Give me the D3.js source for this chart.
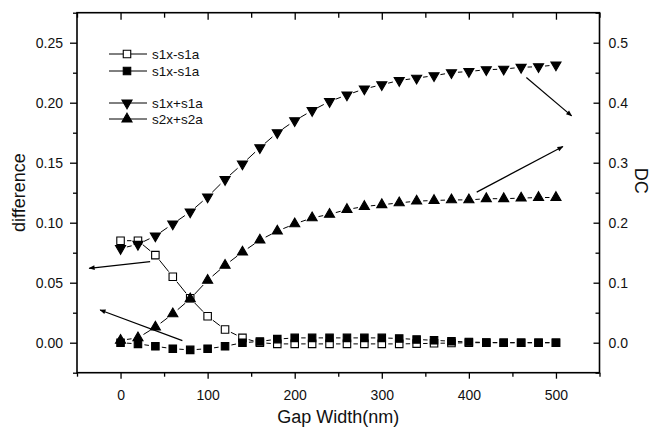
<!DOCTYPE html>
<html>
<head>
<meta charset="utf-8">
<script src="https://cdn.jsdelivr.net/npm/d3@7"></script>
<style>
  body { margin: 0; background: #fff; }
  svg text { font-family: "Liberation Sans", Arial, sans-serif; fill: #111; }
</style>
</head>
<body>
<div id="chart"></div>
<script>
// gap width (nm)
const gapWidth = [0, 20, 40, 60, 80, 100, 120, 140, 160, 180, 200, 220, 240,
                  260, 280, 300, 320, 340, 360, 380, 400, 420, 440, 460, 480, 500];

// left axis (difference)
const diffOpen = [0.085, 0.085, 0.073, 0.055, 0.037, 0.022, 0.011, 0.004, 0.000, -0.001,
                  -0.001, -0.001, -0.001, -0.001, -0.001, -0.001, -0.001, -0.0008, -0.0005, -0.0003,
                  0.000, 0.000, 0.000, 0.000, 0.000, 0.000];
const diffFilled = [0.000, -0.001, -0.003, -0.005, -0.006, -0.005, -0.003, 0.000, 0.001, 0.003,
                    0.004, 0.004, 0.004, 0.004, 0.004, 0.004, 0.0035, 0.0027, 0.002, 0.0012,
                    0.0006, 0.0002, 0.000, 0.000, 0.000, 0.000];

// right axis (DC)
const dcS1 = [0.157, 0.164, 0.178, 0.198, 0.218, 0.243, 0.272, 0.298, 0.325, 0.350,
              0.370, 0.387, 0.402, 0.413, 0.423, 0.430, 0.437, 0.441, 0.445, 0.450,
              0.452, 0.455, 0.456, 0.459, 0.460, 0.463];
const dcS2 = [0.004, 0.008, 0.026, 0.048, 0.073, 0.104, 0.129, 0.151, 0.171, 0.186,
              0.198, 0.208, 0.214, 0.222, 0.227, 0.230, 0.233, 0.236, 0.237, 0.238,
              0.238, 0.240, 0.240, 0.241, 0.242, 0.242];

const xTicks = [0, 100, 200, 300, 400, 500];
const xMinor = [-50, 50, 150, 250, 350, 450, 550];
const leftTicks = [0.00, 0.05, 0.10, 0.15, 0.20, 0.25];
const leftMinor = [-0.025, 0.025, 0.075, 0.125, 0.175, 0.225, 0.275];
const rightTicks = [0.0, 0.1, 0.2, 0.3, 0.4, 0.5];
const rightMinor = [-0.05, 0.05, 0.15, 0.25, 0.35, 0.45, 0.55];

// arrows: [x1, y1, x2, y2, axis]
const arrows = [
  [34, 0.0675, -36, 0.062, 'left'],
  [71, 0.0017, -23.5, 0.0273, 'left'],
  [466, 0.442, 518, 0.378, 'right'],
  [409, 0.251, 508, 0.327, 'right']
];

const series = [
  { name: 's1x-s1a', values: diffOpen, axis: 'left', symbol: 'square', fill: '#fff' },
  { name: 's1x-s1a', values: diffFilled, axis: 'left', symbol: 'square', fill: '#000' },
  { name: 's1x+s1a', values: dcS1, axis: 'right', symbol: 'down', fill: '#000' },
  { name: 's2x+s2a', values: dcS2, axis: 'right', symbol: 'up', fill: '#000' }
];

const width = 653, height = 431;
const margin = { left: 77, right: 53.5, top: 12.7, bottom: 58.3 };
const plotW = width - margin.left - margin.right;
const plotH = height - margin.top - margin.bottom;

const svg = d3.select('#chart').append('svg')
  .attr('width', width).attr('height', height);

const x = d3.scaleLinear().domain([-50, 550]).range([margin.left, margin.left + plotW]);
const yL = d3.scaleLinear().domain([-0.025, 0.275]).range([margin.top + plotH, margin.top]);
const yR = d3.scaleLinear().domain([-0.05, 0.55]).range([margin.top + plotH, margin.top]);

const fontSize = 14;

function styleAxis(g) {
  g.select('.domain').remove();
  g.selectAll('line').attr('stroke', '#000').attr('stroke-width', 1.3);
  g.selectAll('text').style('font-size', fontSize + 'px').attr('fill', '#111');
}

// bottom
svg.append('g').attr('transform', `translate(0,${margin.top + plotH})`)
  .call(d3.axisBottom(x).tickValues(xTicks).tickSize(6).tickPadding(11).tickFormat(d3.format('d')))
  .call(styleAxis);
svg.append('g').attr('transform', `translate(0,${margin.top + plotH})`)
  .call(d3.axisBottom(x).tickValues(xMinor).tickSize(4).tickFormat(''))
  .call(styleAxis);
// top
svg.append('g').attr('transform', `translate(0,${margin.top})`)
  .call(d3.axisTop(x).tickValues(xTicks).tickSize(-7).tickFormat(''))
  .call(styleAxis);
svg.append('g').attr('transform', `translate(0,${margin.top})`)
  .call(d3.axisTop(x).tickValues(xMinor).tickSize(-5).tickFormat(''))
  .call(styleAxis);
// left
svg.append('g').attr('transform', `translate(${margin.left},0)`)
  .call(d3.axisLeft(yL).tickValues(leftTicks).tickSize(7).tickPadding(7).tickFormat(d3.format('.2f')))
  .call(styleAxis);
svg.append('g').attr('transform', `translate(${margin.left},0)`)
  .call(d3.axisLeft(yL).tickValues(leftMinor).tickSize(4).tickFormat(''))
  .call(styleAxis);
// right
svg.append('g').attr('transform', `translate(${margin.left + plotW},0)`)
  .call(d3.axisRight(yR).tickValues(rightTicks).tickSize(-6).tickPadding(9).tickFormat(d3.format('.1f')))
  .call(styleAxis);
svg.append('g').attr('transform', `translate(${margin.left + plotW},0)`)
  .call(d3.axisRight(yR).tickValues(rightMinor).tickSize(-4).tickFormat(''))
  .call(styleAxis);

// frame
svg.append('rect')
  .attr('x', margin.left).attr('y', margin.top)
  .attr('width', plotW).attr('height', plotH)
  .attr('fill', 'none').attr('stroke', '#000').attr('stroke-width', 1.6);

// axis titles
svg.append('text')
  .attr('x', x(250)).attr('y', 423)
  .attr('text-anchor', 'middle')
  .style('font-size', '18px')
  .text('Gap Width(nm)');
svg.append('text')
  .attr('transform', `translate(25,${(yL(0.1) + yL(0.15)) / 2}) rotate(-90)`)
  .attr('text-anchor', 'middle')
  .style('font-size', '18px')
  .text('difference');
svg.append('text')
  .attr('transform', `translate(635,${yR(0.27)}) rotate(90)`)
  .attr('text-anchor', 'middle')
  .style('font-size', '18px')
  .text('DC');

// symbols
const symbolPath = {
  square: d3.symbol(d3.symbolSquare, 56)(),
  up: d3.symbol(d3.symbolTriangle, 44)(),
  down: d3.symbol(d3.symbolTriangle, 44)()
};
function drawSymbol(g, type, fill, px, py) {
  g.append('path')
    .attr('d', symbolPath[type])
    .attr('transform', `translate(${px},${py})` + (type === 'down' ? ' rotate(180)' : ''))
    .attr('fill', fill)
    .attr('stroke', '#000')
    .attr('stroke-width', 1.1);
}

// lines with gaps around the symbols
const gapPx = 6.5;
function drawLine(g, pts) {
  for (let i = 0; i < pts.length - 1; i++) {
    const [x1, y1] = pts[i], [x2, y2] = pts[i + 1];
    const dx = x2 - x1, dy = y2 - y1;
    const len = Math.sqrt(dx * dx + dy * dy);
    if (len <= 2 * gapPx) continue;
    const ux = dx / len, uy = dy / len;
    g.append('line')
      .attr('x1', x1 + ux * gapPx).attr('y1', y1 + uy * gapPx)
      .attr('x2', x2 - ux * gapPx).attr('y2', y2 - uy * gapPx)
      .attr('stroke', '#000').attr('stroke-width', 1);
  }
}

const dataG = svg.append('g');
series.forEach(s => {
  const yScale = s.axis === 'left' ? yL : yR;
  const pts = gapWidth.map((g, i) => [x(g), yScale(s.values[i])]);
  const g = dataG.append('g');
  drawLine(g, pts);
  pts.forEach(p => drawSymbol(g, s.symbol, s.fill, p[0], p[1]));
});

// arrows
svg.append('defs').append('marker')
  .attr('id', 'arrow')
  .attr('viewBox', '0 0 10 10')
  .attr('refX', 9).attr('refY', 5)
  .attr('markerWidth', 10).attr('markerHeight', 6)
  .attr('markerUnits', 'userSpaceOnUse')
  .attr('orient', 'auto')
  .append('path').attr('d', 'M0,1 L10,5 L0,9 Z').attr('fill', '#000');

arrows.forEach(a => {
  const yScale = a[4] === 'left' ? yL : yR;
  svg.append('line')
    .attr('x1', x(a[0])).attr('y1', yScale(a[1]))
    .attr('x2', x(a[2])).attr('y2', yScale(a[3]))
    .attr('stroke', '#000').attr('stroke-width', 1.2)
    .attr('marker-end', 'url(#arrow)');
});

// legend
const legendRows = [54, 71, 103, 119];
const legend = svg.append('g');
series.forEach((s, i) => {
  const ly = legendRows[i];
  legend.append('line')
    .attr('x1', 109).attr('x2', 147).attr('y1', ly).attr('y2', ly)
    .attr('stroke', '#000').attr('stroke-width', 1);
  drawSymbol(legend, s.symbol, s.fill, 127, ly);
  legend.append('text')
    .attr('x', 152).attr('y', ly + 5)
    .style('font-size', '13.5px')
    .text(s.name);
});
</script>
</body>
</html>
